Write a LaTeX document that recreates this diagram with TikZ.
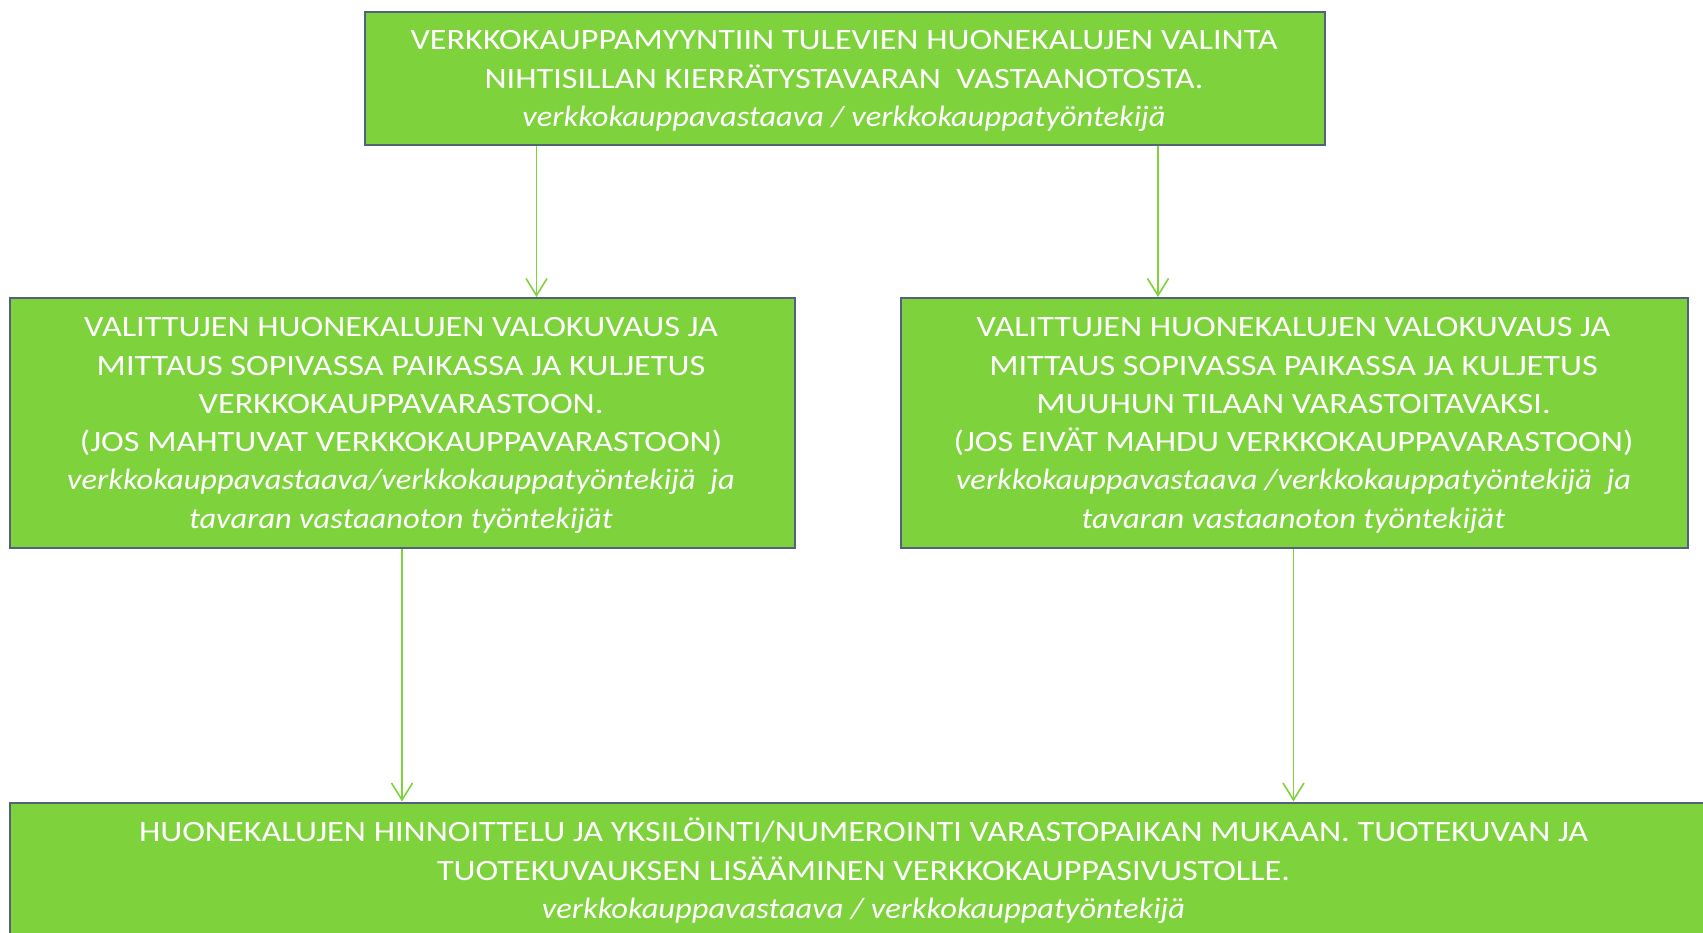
\documentclass[tikz,border=0pt]{standalone}
\usepackage{fontspec}
\setmainfont{Carlito}[UprightFeatures={FakeStretch=1.16},ItalicFeatures={FakeStretch=1.10}]
\usetikzlibrary{arrows.meta}
\definecolor{boxgreen}{HTML}{7ED23C}
\definecolor{boxedge}{HTML}{52627C}
\definecolor{arrgreen}{HTML}{7ED23C}
\begin{document}
\begin{tikzpicture}[x=1pt,y=-1pt,
  box/.style={draw=boxedge,line width=2pt,fill=boxgreen,inner sep=0pt},
  txt/.style={text=white,align=center,font=\fontsize{29.5}{38.3}\selectfont,inner sep=0pt,anchor=base},
  arr/.style={draw=arrgreen,line width=1.6pt,-{Straight Barb[length=17pt,width=21pt,line width=1.6pt]}}]
\useasboundingbox (0,0) rectangle (1703,933);
\clip (0,0) rectangle (1703,933);
% boxes
\node[box,anchor=north west,minimum width=960pt,minimum height=133pt] (top) at (364,11) {};
\node[box,anchor=north west,minimum width=785pt,minimum height=250pt] (left) at (9,297) {};
\node[box,anchor=north west,minimum width=787pt,minimum height=250pt] (right) at (900,297) {};
\node[box,anchor=north west,minimum width=1720pt,minimum height=240pt] (bot) at (9,801.5) {};
% texts (anchor base = baseline of the last line)
\node[txt] (toptxt) at (844,126.6) {VERKKOKAUPPAMYYNTIIN TULEVIEN HUONEKALUJEN VALINTA\\NIHTISILLAN KIERRÄTYSTAVARAN\ \ VASTAANOTOSTA.\\\textit{verkkokauppavastaava / verkkokauppatyöntekijä}};
\node[txt] (lefttxt) at (401,528.2) {VALITTUJEN HUONEKALUJEN VALOKUVAUS JA\\MITTAUS SOPIVASSA PAIKASSA JA KULJETUS\\VERKKOKAUPPAVARASTOON.\\(JOS MAHTUVAT VERKKOKAUPPAVARASTOON)\\\textit{verkkokauppavastaava/verkkokauppatyöntekijä\ \ ja}\\\textit{tavaran vastaanoton työntekijät}};
\node[txt] (righttxt) at (1293.5,528.2) {VALITTUJEN HUONEKALUJEN VALOKUVAUS JA\\MITTAUS SOPIVASSA PAIKASSA JA KULJETUS\\MUUHUN TILAAN VARASTOITAVAKSI.\\(JOS EIVÄT MAHDU VERKKOKAUPPAVARASTOON)\\\textit{verkkokauppavastaava /verkkokauppatyöntekijä\ \ ja}\\\textit{tavaran vastaanoton työntekijät}};
\node[txt] (bottxt) at (863.5,918.3) {HUONEKALUJEN HINNOITTELU JA YKSILÖINTI/NUMEROINTI VARASTOPAIKAN MUKAAN. TUOTEKUVAN JA\\TUOTEKUVAUKSEN LISÄÄMINEN VERKKOKAUPPASIVUSTOLLE.\\\textit{verkkokauppavastaava / verkkokauppatyöntekijä}};
% arrows
\draw[arr] (top.south -| 536.5,0) -- (left.north -| 536.5,0);
\draw[arr] (top.south -| 1158,0) -- (right.north -| 1158,0);
\draw[arr] (left.south -| 402,0) -- (bot.north -| 402,0);
\draw[arr] (right.south -| 1293.5,0) -- (bot.north -| 1293.5,0);
\end{tikzpicture}
\end{document}
